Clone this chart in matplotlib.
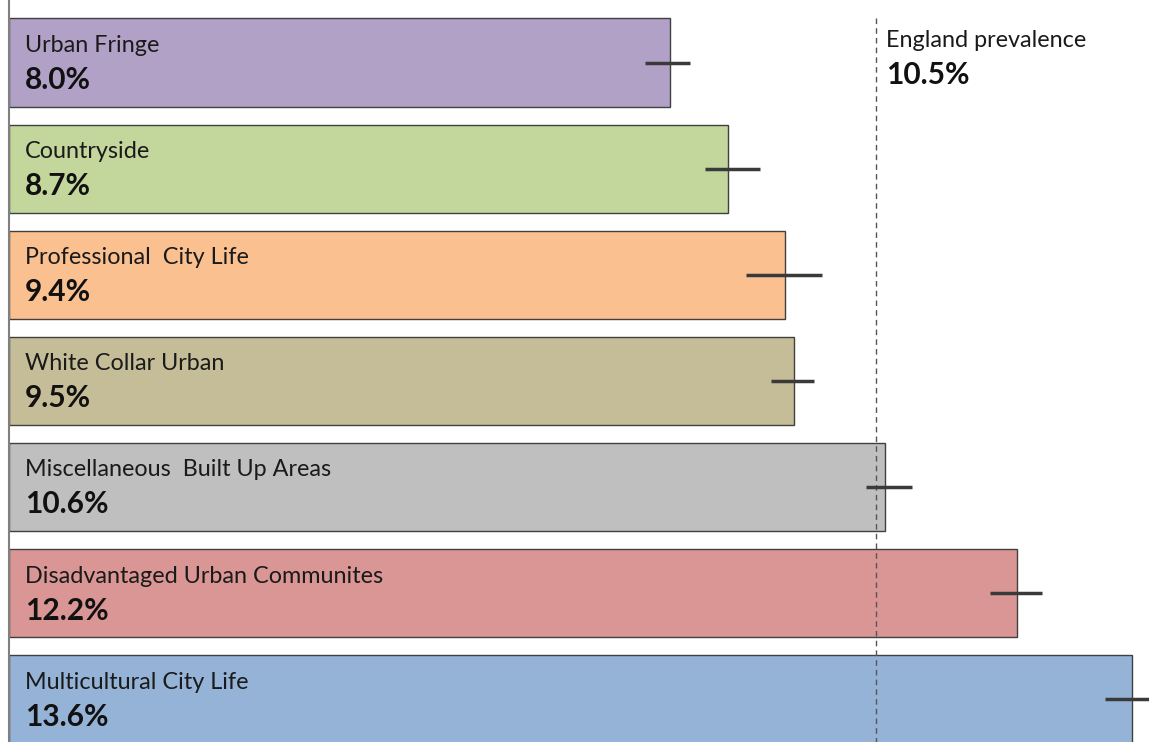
import matplotlib
matplotlib.use("Agg")
import matplotlib.pyplot as plt

categories = ["Urban Fringe", "Countryside", "Professional  City Life", "White Collar Urban",
              "Miscellaneous  Built Up Areas", "Disadvantaged Urban Communites", "Multicultural City Life"]
values = [8.0, 8.7, 9.4, 9.5, 10.6, 12.2, 13.6]
ci_low = [7.70, 8.43, 8.92, 9.23, 10.38, 11.88, 13.27]
ci_high = [8.24, 9.09, 9.84, 9.75, 10.93, 12.51, 13.81]
colors = ["#B2A1C7", "#C3D69B", "#FAC090", "#C4BD97", "#BFBFBF", "#D99694", "#95B3D7"]
england = 10.5
england_label = "England prevalence"

FONT = ["Lato", "DejaVu Sans"]

fig = plt.figure(figsize=(11.49, 7.42), dpi=100)
ax = fig.add_axes([0, 0, 1, 1])
W, H = 1149, 742
x0 = 9
ppu = 82.6
ax.set_xlim(-x0 / ppu, (W - x0) / ppu)
sp = 106.1
c0 = 62.5
ax.set_ylim((H - c0) / sp, -c0 / sp)

ypos = list(range(len(categories)))
ax.barh(ypos, values, height=0.83, color=colors, edgecolor="#404040", linewidth=1.0, zorder=2)
xerr = [[v - l for v, l in zip(values, ci_low)], [h - v for v, h in zip(values, ci_high)]]
ax.errorbar(values, ypos, xerr=xerr, fmt="none", ecolor="#3a3a3a", elinewidth=2.5, capsize=0, zorder=4)

ax.plot([england, england], [-0.415, (H - c0) / sp], color="#555555", linestyle=(0, (4, 3)),
        linewidth=1.0, zorder=3)

for y, name, v in zip(ypos, categories, values):
    ax.text(16 / ppu, y - 0.16, name, fontsize=16.8, family=FONT, color="#1a1a1a",
            ha="left", va="center", zorder=5)
    ax.text(16 / ppu, y + 0.165, f"{v:.1f}%", fontsize=21.5, family=FONT, fontweight="bold",
            color="#111111", ha="left", va="center", zorder=5)

ax.text(england + 10 / ppu, -0.21, england_label, fontsize=16.8, family=FONT, color="#1a1a1a",
        ha="left", va="center")
ax.text(england + 10 / ppu, 0.115, f"{england:.1f}%", fontsize=21.5, family=FONT, fontweight="bold",
        color="#111111", ha="left", va="center")

for s in ["top", "right", "bottom"]:
    ax.spines[s].set_visible(False)
ax.spines["left"].set_position(("data", 0))
ax.spines["left"].set_color("#808080")
ax.spines["left"].set_linewidth(1.5)
ax.set_xticks([])
ax.set_yticks([])
ax.patch.set_alpha(0)
fig.savefig("out.png", dpi=100, facecolor="white")
